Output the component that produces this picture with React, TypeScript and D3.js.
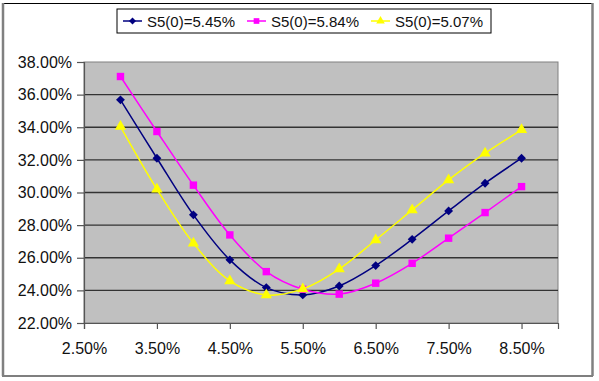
import React, { useRef, useEffect } from "react";
import * as d3 from "d3";

const rates = [3.0, 3.5, 4.0, 4.5, 5.0, 5.5, 6.0, 6.5, 7.0, 7.5, 8.0, 8.5];
const vol545 = [35.68, 32.1, 28.63, 25.87, 24.17, 23.72, 24.27, 25.52, 27.13, 28.87, 30.57, 32.1];
const vol584 = [37.11, 33.74, 30.45, 27.4, 25.15, 24.07, 23.77, 24.44, 25.66, 27.2, 28.77, 30.36];
const vol507 = [34.04, 30.2, 26.89, 24.58, 23.72, 24.09, 25.31, 27.09, 28.93, 30.77, 32.41, 33.84];
const xTicks = [2.5, 3.5, 4.5, 5.5, 6.5, 7.5, 8.5];
const yTicks = [22, 24, 26, 28, 30, 32, 34, 36, 38];

const series = [
  { name: "S5(0)=5.45%", values: vol545, color: "#000080", marker: "diamond" },
  { name: "S5(0)=5.84%", values: vol584, color: "#FF00FF", marker: "square" },
  { name: "S5(0)=5.07%", values: vol507, color: "#FFFF00", marker: "triangle" },
];

const symbolFor = (m: string) =>
  m === "diamond"
    ? (d3 as any).symbolDiamond2 || d3.symbolDiamond
    : m === "square"
    ? d3.symbolSquare
    : d3.symbolTriangle;

const App = () => {
  const svgRef = useRef<SVGSVGElement>(null);

  useEffect(() => {
    const svg = d3.select(svgRef.current);
    svg.selectAll("*").remove();

    const W = 599;
    const H = 381;
    const margin = { top: 62, right: 41, bottom: 58, left: 84 };
    const width = W - margin.left - margin.right;
    const height = H - margin.top - margin.bottom;
    const font = "Liberation Sans, Arial, sans-serif";

    svg.attr("width", W).attr("height", H);

    // outer frame
    svg.append("rect").attr("x", 0).attr("y", 0).attr("width", W).attr("height", H).attr("fill", "#fff");
    svg.append("line").attr("x1", 2).attr("x2", 593).attr("y1", 3.5).attr("y2", 3.5).attr("stroke", "#000").attr("stroke-width", 1.2);
    svg.append("line").attr("x1", 2).attr("x2", 593).attr("y1", 376).attr("y2", 376).attr("stroke", "#000").attr("stroke-width", 1.2);
    svg.append("line").attr("x1", 3).attr("x2", 3).attr("y1", 3).attr("y2", 376).attr("stroke", "#808080").attr("stroke-width", 2.5);
    svg.append("line").attr("x1", 592.5).attr("x2", 592.5).attr("y1", 3).attr("y2", 376).attr("stroke", "#808080").attr("stroke-width", 2.5);

    const x = d3.scaleLinear().domain([2.5, 9]).range([0, width]);
    const y = d3.scaleLinear().domain([22, 38]).range([height, 0]);

    const g = svg.append("g").attr("transform", `translate(${margin.left},${margin.top})`);

    // plot background
    g.append("rect").attr("width", width).attr("height", height).attr("fill", "#C0C0C0").attr("stroke", "#808080").attr("stroke-width", 1);

    // gridlines
    g.selectAll("line.grid")
      .data(yTicks.filter((t) => t > 22 && t < 38))
      .enter()
      .append("line")
      .attr("class", "grid")
      .attr("x1", 0)
      .attr("x2", width)
      .attr("y1", (d) => y(d))
      .attr("y2", (d) => y(d))
      .attr("stroke", "#333")
      .attr("stroke-width", 1.4);

    // Y axis
    const yAxis = g
      .append("g")
      .call(
        d3.axisLeft(y).tickValues(yTicks).tickSize(7).tickPadding(5).tickFormat((d) => `${(+d).toFixed(2)}%`)
      );
    yAxis.select(".domain").attr("stroke", "#555").attr("stroke-width", 1.2);
    yAxis.selectAll(".tick line").attr("stroke", "#555").attr("stroke-width", 1.2);
    yAxis.selectAll("text").attr("font-family", font).attr("font-size", 16).attr("fill", "#111");

    // X axis
    const xAxis = g
      .append("g")
      .attr("transform", `translate(0,${height})`)
      .call(
        d3.axisBottom(x).tickValues(xTicks).tickSize(6).tickPadding(14).tickFormat((d) => `${(+d).toFixed(2)}%`)
      );
    xAxis.select(".domain").attr("stroke", "#555").attr("stroke-width", 1.2);
    xAxis.selectAll(".tick line").attr("stroke", "#555").attr("stroke-width", 1.2);
    xAxis.selectAll("text").attr("font-family", font).attr("font-size", 16).attr("fill", "#111");

    const line = d3
      .line<number>()
      .x((d, i) => x(rates[i]))
      .y((d) => y(d))
      .curve(d3.curveCatmullRom.alpha(0.5));

    series.forEach((s) => {
      g.append("path")
        .datum(s.values)
        .attr("fill", "none")
        .attr("stroke", s.color)
        .attr("stroke-width", 1.5)
        .attr("d", line);

      const size = s.marker === "diamond" ? 50 : 55;
      g.selectAll(null)
        .data(s.values)
        .enter()
        .append("path")
        .attr("transform", (d, i) => `translate(${x(rates[i])},${y(d)})`)
        .attr("d", d3.symbol().type(symbolFor(s.marker)).size(size))
        .attr("fill", s.color);
    });

    // Legend
    const lg = svg.append("g").attr("transform", "translate(117,9)");
    lg.append("rect").attr("width", 374).attr("height", 24).attr("fill", "#fff").attr("stroke", "#000").attr("stroke-width", 1);
    const itemX = [6, 130, 254];
    series.forEach((s, i) => {
      const it = lg.append("g").attr("transform", `translate(${itemX[i]},12)`);
      it.append("line").attr("x1", 0).attr("x2", 19).attr("y1", 0).attr("y2", 0).attr("stroke", s.color).attr("stroke-width", 1.5);
      it.append("path")
        .attr("transform", "translate(9.5,0)")
        .attr("d", d3.symbol().type(symbolFor(s.marker)).size(32))
        .attr("fill", s.color);
      it.append("text")
        .attr("x", 24)
        .attr("y", 6)
        .attr("font-family", font)
        .attr("font-size", 15)
        .attr("fill", "#111")
        .text(s.name);
    });
  }, []);

  return <svg ref={svgRef} style={{ position: "absolute", left: 0, top: 0 }}></svg>;
};

export default App;
